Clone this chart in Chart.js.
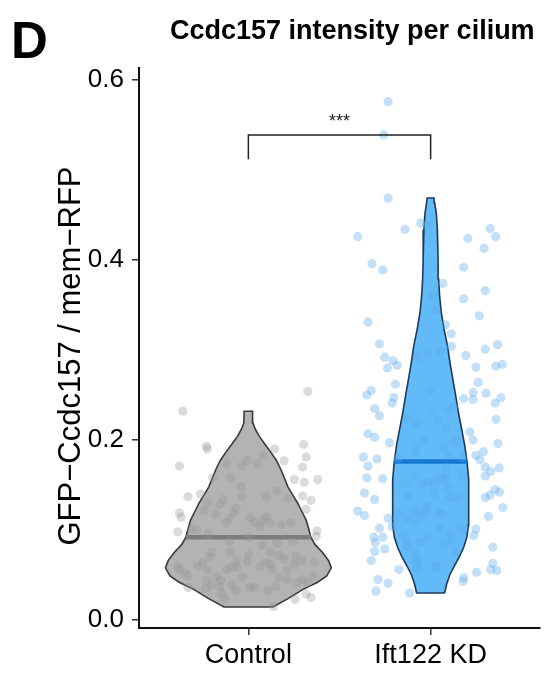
<!DOCTYPE html>
<html><head><meta charset="utf-8">
<script src="https://cdn.jsdelivr.net/npm/chart.js@4.4.1/dist/chart.umd.min.js"></script>
<style>html,body{margin:0;padding:0;background:#fff;}#wrap{width:549px;height:675px;position:relative;}</style>
</head><body><div id="wrap"><canvas id="c"></canvas></div>
<script>
const FONT = "'Liberation Sans', Arial, Helvetica, sans-serif";
const panelLabel = 'D';
const titleText = 'Ccdc157 intensity per cilium';
const yLabel = 'GFP\u2212Ccdc157 / mem\u2212RFP';
const categories = ['Control', 'Ift122 KD'];
const categoryPositions = [1, 2];
const yTicks = [0, 0.2, 0.4, 0.6];
const sigLabel = '***';
const bracketTop = 0.539, bracketBottom = 0.512, sigTextY = 0.548;

const medians = [0.092, 0.176];

// violin outlines: value and half width (in category units)
const controlDensityY = [0.0145,0.024,0.034,0.042,0.049,0.058,0.066,0.075,0.084,0.092,0.102,0.111,0.120,0.130,0.139,0.148,0.158,0.167,0.177,0.186,0.195,0.204,0.212,0.219,0.232];
const controlDensityHalfWidth = [0.134,0.22,0.30,0.38,0.43,0.455,0.44,0.407,0.365,0.343,0.33,0.317,0.295,0.27,0.243,0.217,0.197,0.179,0.155,0.125,0.092,0.06,0.038,0.025,0.023];
const kdDensityY = [0.030,0.040,0.050,0.060,0.070,0.080,0.092,0.105,0.119,0.140,0.156,0.175,0.193,0.210,0.230,0.250,0.267,0.285,0.304,0.323,0.342,0.361,0.379,0.400,0.434,0.452,0.464,0.469];
const kdDensityHalfWidth = [0.077,0.088,0.105,0.13,0.157,0.18,0.199,0.207,0.209,0.209,0.208,0.200,0.188,0.172,0.153,0.137,0.122,0.107,0.093,0.074,0.058,0.049,0.044,0.041,0.037,0.031,0.022,0.019];

// individual cilia (value) with their horizontal jitter (category units)
const controlValues = [0.254,0.232,0.193,0.190,0.195,0.181,0.171,0.170,0.177,0.190,0.156,0.153,0.156,0.158,0.137,0.140,0.119,0.114,0.098,0.101,0.138,0.133,0.123,0.099,0.093,0.064,0.049,0.025,0.023,0.029,0.015,0.023,0.036,0.060,
0.174,0.171,0.177,0.174,0.183,0.158,0.148,0.137,0.137,0.143,0.135,0.134,0.128,0.124,0.130,0.122,0.117,0.113,0.119,0.114,0.109,0.111,0.114,0.108,0.106,0.108,0.104,0.108,0.100,0.096,0.092,0.087,0.083,0.085,0.087,0.075,0.075,0.072,0.075,0.072,0.068,0.071,0.066,0.070,0.064,0.060,0.066,0.064,0.059,0.064,0.062,0.056,0.052,0.049,0.056,0.056,0.059,0.058,0.056,0.055,0.062,0.045,0.042,0.048,0.044,0.044,0.038,0.039,0.048,0.036,0.037,0.033,0.037,0.033,0.037,0.029,0.035,0.047,0.045,0.041];
const controlJitter = [0.326,-0.359,-0.230,-0.226,0.304,0.317,-0.378,0.298,0.196,0.144,0.381,0.307,0.252,-0.196,-0.331,-0.263,-0.378,-0.369,-0.387,-0.313,0.298,0.344,0.317,0.376,0.372,0.363,0.354,0.344,0.257,0.317,0.137,-0.128,-0.331,-0.387,
-0.119,-0.035,-0.007,0.048,0.081,-0.096,-0.039,-0.035,0.100,0.156,0.215,-0.137,-0.156,-0.067,-0.224,-0.244,-0.178,-0.104,-0.081,0.007,0.033,0.081,0.100,0.122,0.178,0.233,0.063,-0.122,-0.285,-0.220,0.002,-0.104,0.076,0.156,0.243,-0.202,-0.100,0.002,0.122,0.169,0.196,0.259,0.296,-0.211,-0.252,-0.276,-0.063,-0.007,0.063,0.094,0.120,-0.378,-0.350,-0.331,-0.224,-0.119,-0.091,-0.059,0.131,0.211,0.252,0.298,0.270,-0.174,-0.152,-0.230,-0.202,-0.091,-0.030,0.007,0.033,0.107,0.150,-0.067,-0.156,-0.146,-0.233,0.169,0.215,0.326];

const kdValues = [0.576,0.539,0.469,0.426,0.434,0.441,0.438,0.435,0.426,0.424,
0.413,0.396,0.389,0.392,0.374,0.366,0.361,0.357,0.344,0.338,
0.331,0.328,0.318,0.307,0.306,0.304,0.301,0.297,0.298,0.292,
0.294,0.292,0.288,0.283,0.280,0.281,0.282,0.284,0.262,0.264,
0.255,0.255,0.250,0.253,0.252,
0.247,0.241,0.245,0.246,0.241,0.247,0.235,0.227,0.231,0.233,
0.237,0.223,0.219,0.222,0.213,0.223,0.207,0.203,0.197,0.209,
0.200,0.196,0.199,0.193,0.185,0.192,0.196,0.199,0.183,0.181,
0.171,0.179,0.180,0.183,0.187,0.178,0.170,0.165,0.169,0.160,
0.181,0.161,0.169,0.161,0.158,0.157,0.151,0.151,0.153,0.153,
0.157,0.158,0.147,0.141,0.134,0.138,0.141,0.137,0.135,0.136,
0.139,0.145,0.142,0.125,0.121,0.116,0.119,0.122,0.117,0.126,
0.121,0.118,0.118,0.113,0.109,0.113,0.115,0.102,0.104,0.102,
0.104,0.101,0.101,0.095,0.096,0.094,0.092,0.092,0.086,0.092,
0.088,0.086,0.082,0.085,0.088,0.081,0.076,0.079,0.074,0.076,
0.066,0.066,0.065,0.060,0.058,0.058,0.056,0.063,0.056,0.055,
0.053,0.047,0.043,0.045,0.041,0.032,0.030];
const kdJitter = [-0.233,-0.257,-0.233,-0.400,-0.141,-0.054,-0.017,0.326,0.357,0.204,
0.293,-0.322,-0.263,0.181,0.067,0.300,0.015,0.181,0.030,0.267,
-0.344,0.081,0.113,-0.281,0.367,0.113,0.300,-0.022,0.057,-0.072,
0.193,-0.252,-0.207,-0.183,-0.237,0.248,0.357,0.394,-0.193,0.261,
-0.002,-0.326,-0.350,0.233,0.304,
-0.202,-0.211,0.233,0.181,0.354,0.385,-0.307,-0.281,0.007,0.094,
0.126,-0.128,-0.078,0.039,0.085,0.359,-0.344,-0.307,-0.226,0.215,
0.233,0.370,-0.035,-0.085,-0.085,0.070,0.126,0.144,0.094,-0.369,
-0.344,-0.294,-0.178,0.248,0.289,0.270,0.300,0.330,0.376,0.300,
0.174,0.170,0.081,-0.085,-0.350,-0.263,-0.141,-0.048,-0.017,0.020,
0.057,0.081,0.089,-0.363,-0.307,-0.128,0.017,0.107,0.144,0.300,
0.326,0.354,0.378,0.396,-0.400,-0.363,-0.178,-0.089,-0.059,-0.022,
-0.022,0.044,0.063,-0.133,-0.085,-0.233,0.317,-0.281,-0.211,0.048,
0.156,0.181,0.248,-0.152,0.107,0.237,-0.311,-0.263,-0.304,-0.022,
-0.128,-0.059,-0.128,0.067,0.113,0.341,-0.307,-0.252,-0.081,0.141,
-0.326,-0.070,-0.083,0.026,0.033,-0.070,-0.174,0.341,0.330,0.363,
0.252,0.181,0.178,-0.289,-0.233,-0.300,-0.115];

const styles = [
  {fill:'#b3b3b3', stroke:'#3a3a3a', median:'#7d7d7d', point:'rgba(150,150,150,0.34)'},
  {fill:'#62baf8', stroke:'#1d3b58', median:'#1479cf', point:'rgba(92,170,238,0.36)'}
];

function halfWidthAt(ys, hws, v){
  for (let i=0;i<ys.length-1;i++){
    if (v>=ys[i] && v<=ys[i+1]){ const t=(v-ys[i])/(ys[i+1]-ys[i]); return hws[i]+t*(hws[i+1]-hws[i]); }
  }
  return 0;
}

function violinSets(center, ys, hws, st, med){
  const right = ys.map((y,i)=>({x:center+hws[i], y}));
  const left = ys.map((y,i)=>({x:center-hws[i], y}));
  const outline = right.concat(left.slice().reverse(), [right[0]]);
  const mhw = halfWidthAt(ys, hws, med);
  return [
    {data:right, fill:'+1', backgroundColor:st.fill, borderWidth:0, borderColor:'rgba(0,0,0,0)', pointRadius:0, order:20},
    {data:left, fill:false, borderWidth:0, borderColor:'rgba(0,0,0,0)', pointRadius:0, order:19},
    {data:outline, fill:false, borderWidth:1.6, borderColor:st.stroke, pointRadius:0, order:10},
    {data:[{x:center-mhw,y:med},{x:center+mhw,y:med}], fill:false, borderWidth:4.5, borderColor:st.median, pointRadius:0, order:9}
  ];
}
function pointSet(center, vals, jit, st){
  const n = Math.min(vals.length, jit.length);
  const d = [];
  for (let i=0;i<n;i++) d.push({x:center+jit[i], y:vals[i]});
  return {data:d, showLine:false, pointRadius:4.6, pointBorderWidth:0, pointBackgroundColor:st.point, borderColor:st.point, backgroundColor:st.point, order:1};
}

const datasets = [].concat(
  violinSets(categoryPositions[0], controlDensityY, controlDensityHalfWidth, styles[0], medians[0]),
  violinSets(categoryPositions[1], kdDensityY, kdDensityHalfWidth, styles[1], medians[1]),
  [pointSet(categoryPositions[0], controlValues, controlJitter, styles[0]),
   pointSet(categoryPositions[1], kdValues, kdJitter, styles[1]),
   {data:[{x:categoryPositions[0],y:bracketBottom},{x:categoryPositions[0],y:bracketTop},{x:categoryPositions[1],y:bracketTop},{x:categoryPositions[1],y:bracketBottom}],
    fill:false, borderWidth:1.5, borderColor:'#222', pointRadius:0, order:0}]
);

const textPlugin = {
  id:'texts',
  afterDraw(chart){
    const ctx = chart.ctx, xs = chart.scales.x, ys = chart.scales.y;
    ctx.save();
    ctx.fillStyle = '#000';
    ctx.textAlign = 'left'; ctx.textBaseline = 'alphabetic';
    ctx.font = 'bold 51px ' + FONT;
    ctx.fillText(panelLabel, 11, 58);
    ctx.font = 'bold 27px ' + FONT;
    ctx.fillText(titleText, 170, 39);
    ctx.save();
    ctx.translate(80, 356); ctx.rotate(-Math.PI/2);
    ctx.textAlign = 'center'; ctx.font = '31px ' + FONT;
    ctx.fillText(yLabel, 0, 0);
    ctx.restore();
    ctx.textAlign = 'center'; ctx.font = '18px ' + FONT; ctx.fillStyle = '#222';
    ctx.fillText(sigLabel, xs.getPixelForValue((categoryPositions[0]+categoryPositions[1])/2), ys.getPixelForValue(sigTextY));
    ctx.restore();
  }
};

new Chart(document.getElementById('c'), {
  type:'line',
  data:{datasets},
  plugins:[textPlugin],
  options:{
    indexAxis:'y',
    responsive:true, maintainAspectRatio:false, animation:false,
    layout:{padding:{left:0, right:9, top:68, bottom:0}},
    plugins:{legend:{display:false}, tooltip:{enabled:false}, title:{display:false}},
    elements:{line:{tension:0}},
    scales:{
      x:{type:'linear', position:'bottom', min:0.4, max:2.6,
        afterBuildTicks(s){ s.ticks = categoryPositions.map(v=>({value:v})); },
        afterFit(s){ s.height = 47; },
        ticks:{callback:(v,i)=>categories[i], font:{family:FONT, size:27}, color:'#000', padding:4, maxRotation:0, autoSkip:false},
        grid:{display:true, drawOnChartArea:false, drawTicks:true, tickLength:7, color:'#333', lineWidth:1.5},
        border:{display:true, color:'#111', width:2}
      },
      y:{type:'linear', position:'left', min:-0.0089, max:0.6134,
        afterBuildTicks(s){ s.ticks = yTicks.map(v=>({value:v})); },
        afterFit(s){ s.width = 139; },
        ticks:{callback:(v)=>v.toFixed(1), font:{family:FONT, size:26}, color:'#000', padding:8},
        grid:{display:true, drawOnChartArea:false, drawTicks:true, tickLength:7, color:'#333', lineWidth:1.5},
        border:{display:true, color:'#111', width:2}
      }
    }
  }
});
</script></body></html>
